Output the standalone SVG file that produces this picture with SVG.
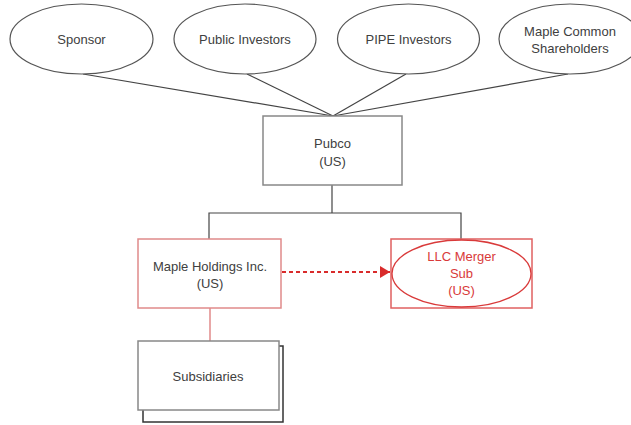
<svg xmlns="http://www.w3.org/2000/svg" width="631" height="425" viewBox="0 0 631 425">
<defs>
<style>
text{font-family:"Liberation Sans",Arial,sans-serif;font-size:13px;fill:#404040;text-anchor:middle}
.red text, text.red{fill:#d93a3a}
.ell{fill:#fff;stroke:#555;stroke-width:1.2}
.box{fill:#fff;stroke:#888;stroke-width:1.5}
.rbox{fill:#fff;stroke:#e08a8a;stroke-width:1.5}
.line{fill:none;stroke:#444;stroke-width:1.2}
</style>
<marker id="arr" markerWidth="10" markerHeight="12" refX="10" refY="6" orient="auto" markerUnits="userSpaceOnUse">
<path d="M0,0 L10,6 L0,12 Z" fill="#d92b2b"/>
</marker>
</defs>
<rect width="631" height="425" fill="#fff"/>
<g id="connectors">
<line class="line" x1="83" y1="74" x2="333" y2="116"/>
<line class="line" x1="247" y1="74" x2="333" y2="116"/>
<line class="line" x1="406" y1="74" x2="333" y2="116"/>
<line class="line" x1="568" y1="74" x2="333" y2="116"/>
<polyline class="line" points="332,185 332,213"/>
<polyline class="line" points="209,239 209,213 461,213 461,239"/>
<line x1="210" y1="308" x2="210" y2="341" stroke="#e08a8a" stroke-width="1.5"/>
<line x1="282" y1="272" x2="390" y2="272" stroke="#d92b2b" stroke-width="2" stroke-dasharray="4,3" marker-end="url(#arr)"/>
</g>
<g id="sponsor">
<ellipse class="ell" cx="81.5" cy="39" rx="71.5" ry="35"/>
<text x="81.5" y="44">Sponsor</text>
</g>
<g id="public-investors">
<ellipse class="ell" cx="245" cy="39" rx="71" ry="35"/>
<text x="245" y="44">Public Investors</text>
</g>
<g id="pipe-investors">
<ellipse class="ell" cx="408.5" cy="39" rx="71" ry="35"/>
<text x="408.5" y="44">PIPE Investors</text>
</g>
<g id="maple-common">
<ellipse class="ell" cx="570" cy="39" rx="71" ry="35"/>
<text x="570" y="36">Maple Common</text>
<text x="570" y="53">Shareholders</text>
</g>
<g id="pubco">
<rect class="box" x="263" y="116" width="139" height="69"/>
<text x="332.5" y="148">Pubco</text>
<text x="332.5" y="166">(US)</text>
</g>
<g id="maple-holdings">
<rect class="rbox" x="138" y="239" width="143" height="69"/>
<text x="210" y="271">Maple Holdings Inc.</text>
<text x="210" y="288">(US)</text>
</g>
<g id="llc-merger-sub">
<rect x="391" y="239" width="141" height="69" fill="#fff" stroke="#e06060" stroke-width="1.5"/>
<ellipse cx="461.5" cy="273.5" rx="69.5" ry="33.5" fill="none" stroke="#d93a3a" stroke-width="1.3"/>
<text class="red" x="461.5" y="261">LLC Merger</text>
<text class="red" x="461.5" y="278">Sub</text>
<text class="red" x="461.5" y="295">(US)</text>
</g>
<g id="subsidiaries">
<rect x="143" y="346" width="140" height="76" fill="#fff" stroke="#333" stroke-width="1.5"/>
<rect x="138" y="341" width="141" height="69" fill="#fff" stroke="#888" stroke-width="1.5"/>
<text x="208" y="381">Subsidiaries</text>
</g>
</svg>
